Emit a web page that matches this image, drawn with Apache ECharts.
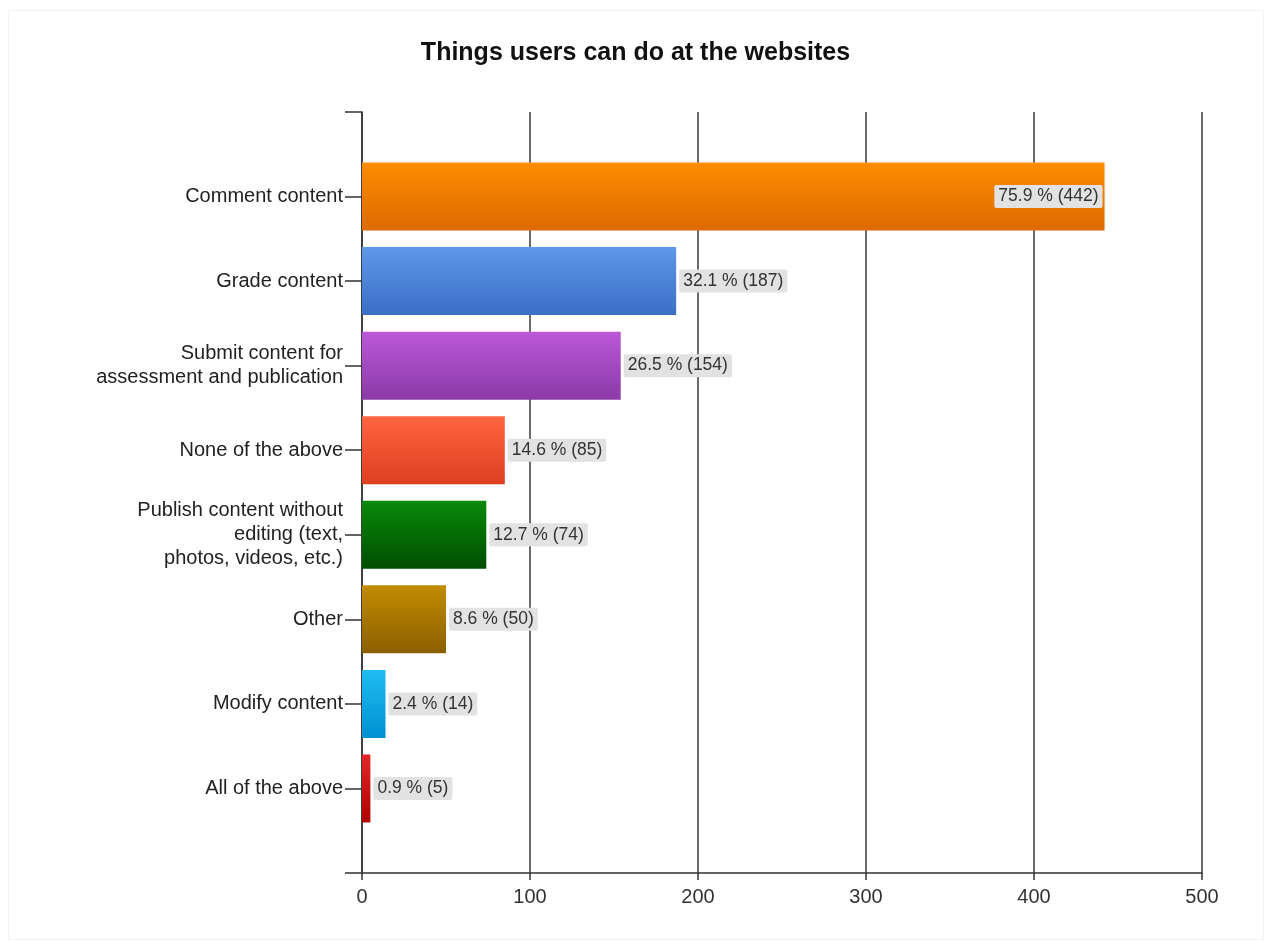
<!DOCTYPE html>
<html>
<head>
<meta charset="utf-8">
<script src="https://cdn.jsdelivr.net/npm/echarts@6/dist/echarts.min.js"></script>
<style>
html,body{margin:0;padding:0;background:#fff;}
#frame{position:absolute;left:8px;top:10px;width:1256px;height:930px;border:1px solid #f2f2f2;box-sizing:border-box;}
#chart{position:absolute;left:0;top:0;width:1271px;height:945px;}
</style>
</head>
<body>
<div id="frame"></div>
<div id="chart"></div>
<script>
const categories = [
  'Comment content',
  'Grade content',
  'Submit content for\nassessment and publication',
  'None of the above',
  'Publish content without\nediting (text,\nphotos, videos, etc.)',
  'Other',
  'Modify content',
  'All of the above'
];
const counts = [442, 187, 154, 85, 74, 50, 14, 5];
const percents = ['75.9', '32.1', '26.5', '14.6', '12.7', '8.6', '2.4', '0.9'];
const xTicks = [0, 100, 200, 300, 400, 500];
const colorTop = ['#ff8c00', '#5e98e8', '#bb58d8', '#ff6442', '#0a8a0a', '#c28c00', '#20bcf2', '#e22828'];
const colorBottom = ['#dc6a00', '#3a6fc6', '#8b3aa8', '#dc4020', '#004e00', '#8c6000', '#0090d2', '#b00000'];

const chart = echarts.init(document.getElementById('chart'));
const yCats = [''].concat(categories).concat(['']);
const seriesData = ['-'];
counts.forEach((v, i) => {
  seriesData.push({
    value: v,
    itemStyle: {
      color: new echarts.graphic.LinearGradient(0, 0, 0, 1, [
        {offset: 0, color: colorTop[i]},
        {offset: 1, color: colorBottom[i]}
      ])
    },
    label: i === 0 ? {position: 'insideRight', distance: 2} : {position: 'right', distance: 3}
  });
});
seriesData.push('-');

chart.setOption({
  animation: false,
  title: {
    text: 'Things users can do at the websites',
    left: 'center',
    top: 36,
    textStyle: {fontFamily: 'Liberation Sans, Arial', fontSize: 25, fontWeight: 'bold', color: '#111'}
  },
  grid: {left: 362, right: 69, top: 112, bottom: 72, containLabel: false},
  xAxis: {
    type: 'value',
    min: 0, max: 500, interval: 100,
    axisLine: {show: true, onZero: false, lineStyle: {color: '#333', width: 1.5}},
    axisTick: {show: true, length: 7, lineStyle: {color: '#333', width: 1.5}},
    axisLabel: {color: '#333', fontSize: 20, fontFamily: 'Liberation Sans, Arial', margin: 14,
      formatter: v => xTicks.includes(v) ? String(v) : ''},
    splitLine: {show: true, lineStyle: {color: '#3a3a3a', width: 1.5}}
  },
  yAxis: {
    type: 'category',
    data: yCats,
    inverse: true,
    boundaryGap: false,
    axisLine: {show: true, lineStyle: {color: '#333', width: 1.5}},
    axisTick: {show: true, length: 17, inside: false, lineStyle: {color: '#333', width: 1.5}},
    axisLabel: {color: '#222', fontSize: 20, fontFamily: 'Liberation Sans, Arial', margin: 19, lineHeight: 24, align: 'right'},
    splitLine: {show: false}
  },
  series: [{
    type: 'bar',
    data: seriesData,
    barWidth: 68,
    label: {
      show: true,
      formatter: p => { const i = p.dataIndex - 1; return percents[i] + ' % (' + counts[i] + ')'; },
      color: '#333',
      fontSize: 17.5,
      fontFamily: 'Liberation Sans, Arial',
      backgroundColor: '#e2e2e2',
      borderRadius: 2,
      padding: [3, 4, 2, 4]
    }
  }]
});
</script>
</body>
</html>
